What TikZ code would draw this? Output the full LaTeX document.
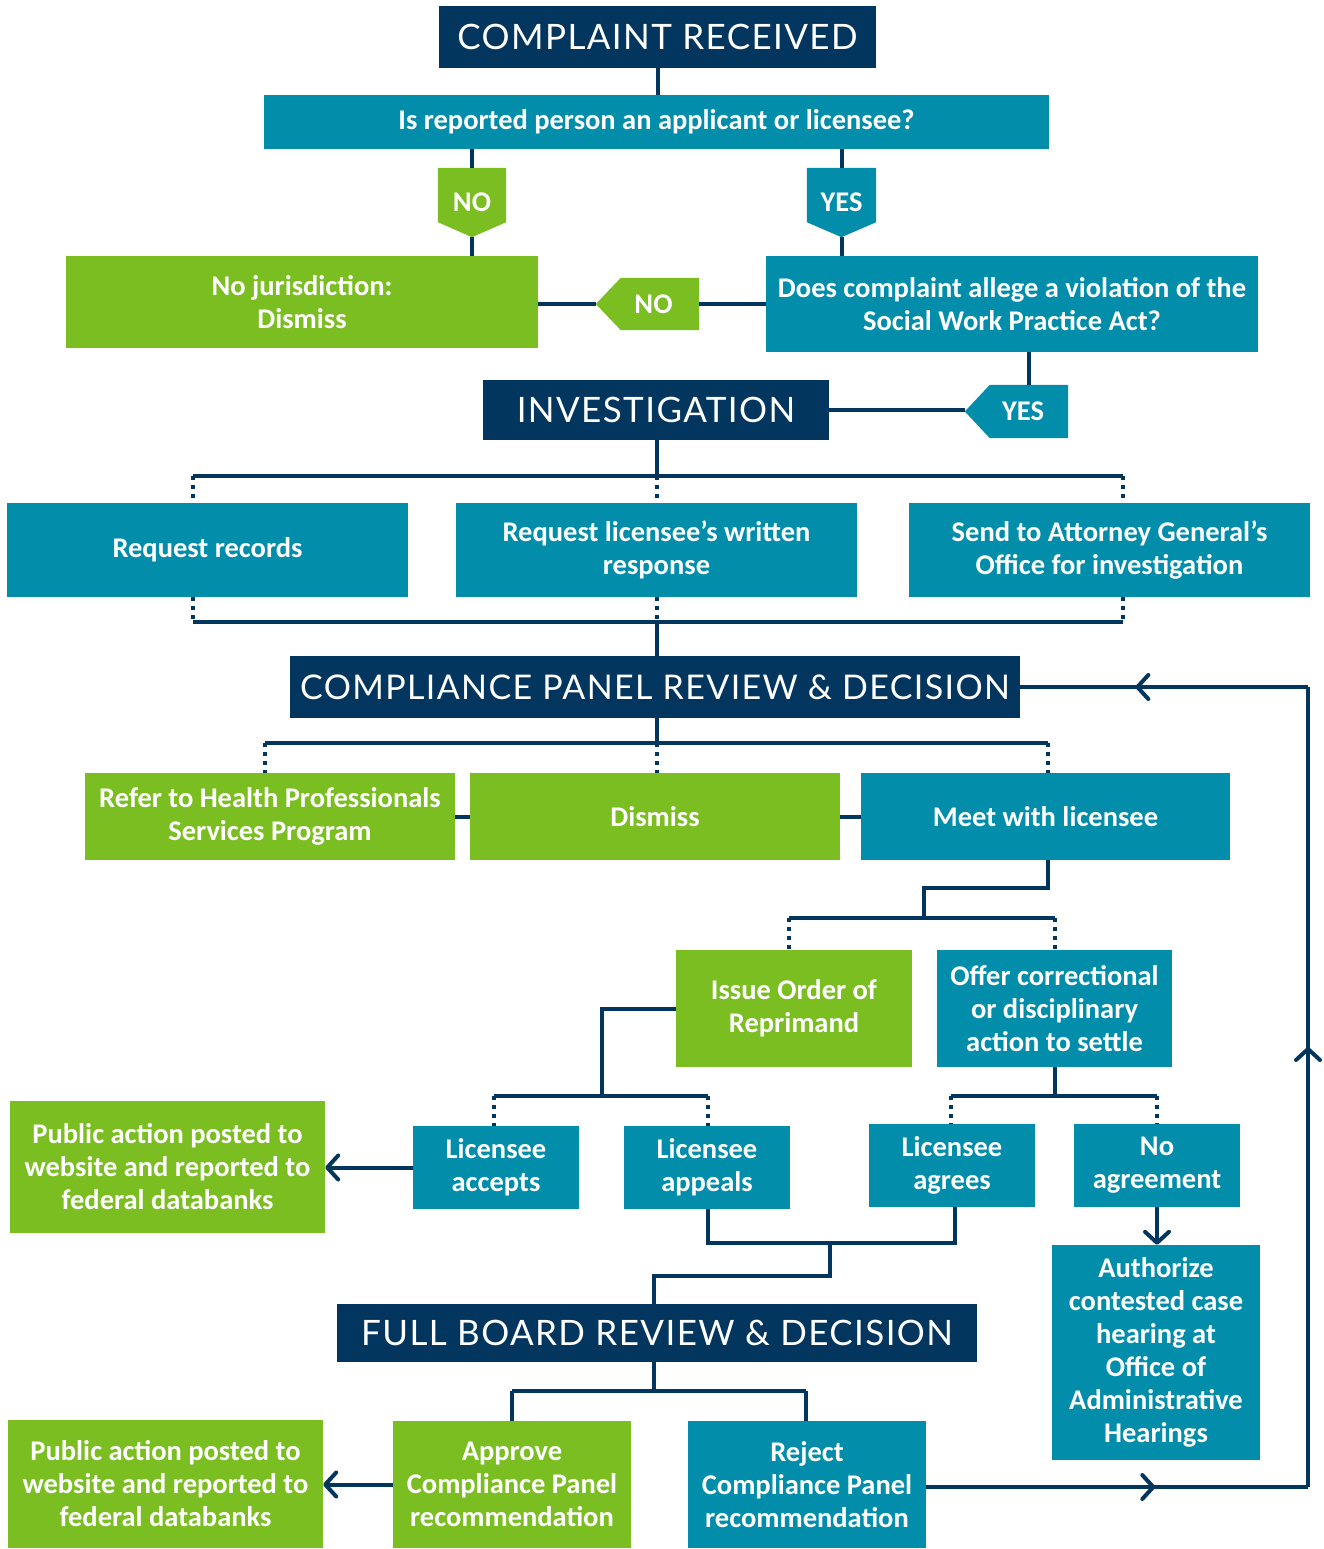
\documentclass[tikz,border=0pt]{standalone}
\usepackage{fontspec}
\setmainfont{Carlito}
\newfontfamily\titlefont{Lato}[LetterSpace=4]
\usetikzlibrary{arrows.meta,decorations.markings}
\definecolor{cnavy}{HTML}{03365F}
\definecolor{cteal}{HTML}{028EAB}
\definecolor{cgreen}{HTML}{7BBE22}
\pgfdeclarelayer{bg}
\pgfsetlayers{bg,main}
\begin{document}
\begin{tikzpicture}[x=1pt,y=-1pt,
  base/.style={rectangle, inner sep=0pt, text=white, align=center, font=\bfseries\fontsize{28.5}{33}\selectfont},
  tb/.style={base, fill=cteal},
  gb/.style={base, fill=cgreen},
  hb/.style={base, fill=cnavy, font=\titlefont\fontsize{35}{40}\selectfont},
  conn/.style={draw=cnavy, line width=4pt},
  dots/.style={draw=cnavy, line width=4pt, dash pattern=on 4pt off 5pt},
  tip/.style={-{Straight Barb[length=11pt,width=24pt,line width=4pt,round]}},
  midarr/.style={postaction={decorate, decoration={markings, mark=at position #1 with {\arrow{Straight Barb[length=11pt,width=24pt,line width=4pt,round]}}}}}
]
\useasboundingbox (0,0) rectangle (1323,1549);

% ---------- nodes ----------
\node[hb, minimum width=437pt, minimum height=62pt] (cr) at (657.5,37) {COMPLAINT RECEIVED};
\node[tb, minimum width=785pt, minimum height=54pt] (q1) at (656.5,122) {Is reported person an applicant or licensee?};
\node[base, minimum width=68pt, minimum height=69pt] (t1) at (472,202.5) {NO};
\node[base, minimum width=69pt, minimum height=69pt] (t2) at (841.5,202.5) {YES};
\node[gb, minimum width=472pt, minimum height=92pt] (nojur) at (302,302) {No jurisdiction:\\Dismiss};
\node[tb, minimum width=492pt, minimum height=96pt] (does) at (1012,304) {Does complaint allege a violation of the\\Social Work Practice Act?};
\node[base, minimum width=103pt, minimum height=52pt] (t3) at (647.5,304) {\hspace*{12pt}NO};
\node[hb, minimum width=346pt, minimum height=60pt] (inv) at (656,410) {INVESTIGATION};
\node[base, minimum width=103pt, minimum height=53pt] (t4) at (1016.5,411.5) {\hspace*{13pt}YES};

\node[tb, minimum width=401pt, minimum height=94pt] (reqrec) at (207.5,550) {Request records};
\node[tb, minimum width=401pt, minimum height=94pt] (reqresp) at (656.5,550) {Request licensee’s written\\response};
\node[tb, minimum width=401pt, minimum height=94pt] (sendag) at (1109.5,550) {Send to Attorney General’s\\Office for investigation};

\node[hb, minimum width=730pt, minimum height=62pt, font=\titlefont\fontsize{34}{40}\selectfont] (comp) at (655,687) {COMPLIANCE PANEL REVIEW \& DECISION};

\node[gb, minimum width=370pt, minimum height=87pt] (refer) at (270,816.5) {Refer to Health Professionals\\Services Program};
\node[gb, minimum width=370pt, minimum height=87pt] (dismiss) at (655,816.5) {Dismiss};
\node[tb, minimum width=369pt, minimum height=87pt] (meet) at (1045.5,816.5) {Meet with licensee};

\node[gb, minimum width=236pt, minimum height=117pt] (issue) at (794,1008.5) {Issue Order of\\Reprimand};
\node[tb, minimum width=235pt, minimum height=117pt] (offer) at (1054.5,1008.5) {Offer correctional\\or disciplinary\\action to settle};

\node[tb, minimum width=166pt, minimum height=83pt] (accepts) at (496,1167.5) {Licensee\\accepts};
\node[tb, minimum width=166pt, minimum height=83pt] (appeals) at (707,1167.5) {Licensee\\appeals};
\node[tb, minimum width=166pt, minimum height=83pt] (agrees) at (952,1165.5) {Licensee\\agrees};
\node[tb, minimum width=166pt, minimum height=83pt] (noagree) at (1157,1165.5) {No\\agreement};
\node[gb, minimum width=315pt, minimum height=132pt] (pub1) at (167.5,1167) {Public action posted to\\website and reported to\\federal databanks};
\node[tb, minimum width=208pt, minimum height=215pt] (auth) at (1156,1352.5) {Authorize\\contested case\\hearing at\\Office of\\Administrative\\Hearings};

\node[hb, minimum width=640pt, minimum height=58pt] (full) at (657,1333) {FULL BOARD REVIEW \& DECISION};
\node[gb, minimum width=238pt, minimum height=127pt] (approve) at (512,1484.5) {Approve\\Compliance Panel\\recommendation};
\node[tb, minimum width=238pt, minimum height=127pt] (reject) at (807,1484.5) {Reject\\Compliance Panel\\recommendation};
\node[gb, minimum width=315pt, minimum height=128pt] (pub2) at (165.5,1484) {Public action posted to\\website and reported to\\federal databanks};

% ---------- tag shapes ----------
\begin{pgfonlayer}{bg}
\fill[cgreen] (t1.north west) -- (t1.north east) -- ([yshift=15pt]t1.south east) -- (t1.south) -- ([yshift=15pt]t1.south west) -- cycle;
\fill[cteal] (t2.north west) -- (t2.north east) -- ([yshift=15pt]t2.south east) -- (t2.south) -- ([yshift=15pt]t2.south west) -- cycle;
\fill[cgreen] (t3.west) -- ([xshift=25pt]t3.north west) -- (t3.north east) -- (t3.south east) -- ([xshift=25pt]t3.south west) -- cycle;
\fill[cteal] (t4.west) -- ([xshift=25pt]t4.north west) -- (t4.north east) -- (t4.south east) -- ([xshift=25pt]t4.south west) -- cycle;
\end{pgfonlayer}

% ---------- connectors: top ----------
\draw[conn] (cr.south) -- (cr.south |- q1.north);
\draw[conn] (q1.south -| t1.north) -- (t1.north);
\draw[conn] (t1.south) -- (t1.south |- nojur.north);
\draw[conn] (q1.south -| t2.north) -- (t2.north);
\draw[conn] (t2.south) -- (t2.south |- does.north);
\draw[conn] (does.west) -- (t3.east);
\draw[conn] (t3.west) -- (nojur.east |- t3.west);
\coordinate (yv) at (1029,0);
\draw[conn] (does.south -| yv) -- (t4.north -| yv);
\draw[conn] (inv.east) -- (inv.east -| t4.west);

% ---------- investigation fan ----------
\coordinate (iL) at (193,476); \coordinate (iM) at (657,476); \coordinate (iR) at (1123,476);
\draw[conn] (inv.south -| iM) -- (iM);
\draw[conn] (iL) -- (iR);
\draw[dots] (iL) -- (iL |- reqrec.north);
\draw[dots] (iM) -- (iM |- reqresp.north);
\draw[dots] (iR) -- (iR |- sendag.north);
\coordinate (jL) at (193,622); \coordinate (jM) at (657,622); \coordinate (jR) at (1123,622);
\draw[dots] (jL |- reqrec.south) -- (jL);
\draw[dots] (jM |- reqresp.south) -- (jM);
\draw[dots] (jR |- sendag.south) -- (jR);
\draw[conn] (jL) -- (jR);
\draw[conn] (jM) -- (jM |- comp.north);

% ---------- compliance fan ----------
\coordinate (kL) at (265,743); \coordinate (kM) at (657,743); \coordinate (kR) at (1048,743);
\draw[conn] (kM |- comp.south) -- (kM);
\draw[conn] (kL) -- (kR);
\draw[dots] (kL) -- (kL |- refer.north);
\draw[dots] (kM) -- (kM |- dismiss.north);
\draw[dots] (kR) -- (kR |- meet.north);
\draw[conn] (refer.east) -- (dismiss.west);
\draw[conn] (dismiss.east) -- (meet.west);

% ---------- meet fan ----------
\coordinate (m1) at (1048,888); \coordinate (m2) at (924,888); \coordinate (m3) at (924,918);
\draw[conn] (m1 |- meet.south) -- (m1) -- (m2) -- (m3);
\coordinate (lL) at (789,918); \coordinate (lR) at (1055,918);
\draw[conn] (lL) -- (lR);
\draw[dots] (lL) -- (lL |- issue.north);
\draw[dots] (lR) -- (lR |- offer.north);

% ---------- issue fan ----------
\coordinate (n1) at (602,1096);
\draw[conn] (issue.west) -| (n1);
\coordinate (nL) at (494,1096); \coordinate (nR) at (708,1096);
\draw[conn] (nL) -- (nR);
\draw[dots] (nL) -- (nL |- accepts.north);
\draw[dots] (nR) -- (nR |- appeals.north);

% ---------- offer fan ----------
\coordinate (oL) at (951,1096); \coordinate (oR) at (1157,1096); \coordinate (oM) at (1055,1096);
\draw[conn] (oM |- offer.south) -- (oM);
\draw[conn] (oL) -- (oR);
\draw[dots] (oL) -- (oL |- agrees.north);
\draw[dots] (oR) -- (oR |- noagree.north);

\draw[conn, tip] (accepts.west) -- (accepts.west -| pub1.east);
\draw[conn, tip] (noagree.south) -- (noagree.south |- auth.north);

% ---------- appeals / agrees to full board ----------
\coordinate (p1) at (708,1243); \coordinate (p2) at (955,1243); \coordinate (p3) at (830,1243);
\coordinate (p4) at (830,1276); \coordinate (p5) at (654,1276);
\draw[conn] (p1 |- appeals.south) -- (p1) -- (p2) -- (p2 |- agrees.south);
\draw[conn] (p3) -- (p4) -- (p5) -- (p5 |- full.north);

% ---------- full board fan ----------
\coordinate (qL) at (512,1391); \coordinate (qM) at (654,1391); \coordinate (qR) at (806,1391);
\draw[conn] (qM |- full.south) -- (qM);
\draw[conn] (qL) -- (qR);
\draw[conn] (qL) -- (qL |- approve.north);
\draw[conn] (qR) -- (qR |- reject.north);
\draw[conn, tip] (approve.west) -- (approve.west -| pub2.east);

% ---------- loop back ----------
\coordinate (r1) at (1308,1487); \coordinate (r2) at (1308,687);
\draw[conn, midarr=0.6] (reject.east |- r1) -- (r1);
\draw[conn, midarr=0.55] (r1) -- (r2);
\draw[conn, midarr=0.6] (r2) -- (comp.east);
\end{tikzpicture}
\end{document}
